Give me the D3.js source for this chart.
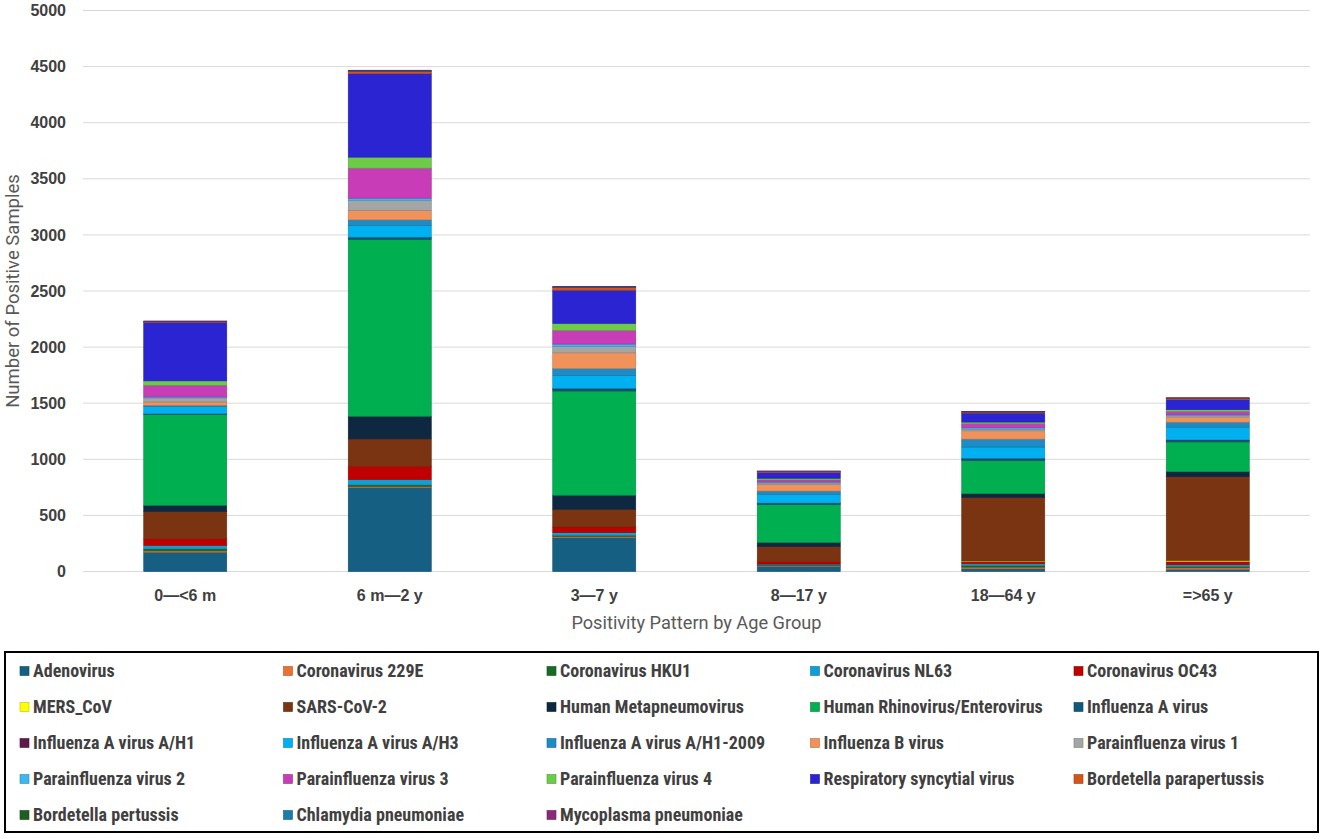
<!DOCTYPE html>
<html>
<head>
<meta charset="utf-8">
<script src="https://cdn.jsdelivr.net/npm/d3@7"></script>
<style>
  body { margin: 0; background: #fff; }
  svg { display: block; }
</style>
</head>
<body>
<div id="chart"></div>
<script>
// categories on the x axis
const ageGroups = ["0\u2014<6 m", "6 m\u20142 y", "3\u20147 y", "8\u201417 y", "18\u201464 y", "=>65 y"]

// pathogens, bottom of the stack first (same order as the legend)
const pathogens = [
  "Adenovirus", "Coronavirus 229E", "Coronavirus HKU1", "Coronavirus NL63", "Coronavirus OC43",
  "MERS_CoV", "SARS-CoV-2", "Human Metapneumovirus", "Human Rhinovirus/Enterovirus", "Influenza A virus",
  "Influenza A virus A/H1", "Influenza A virus A/H3", "Influenza A virus A/H1-2009", "Influenza B virus", "Parainfluenza virus 1",
  "Parainfluenza virus 2", "Parainfluenza virus 3", "Parainfluenza virus 4", "Respiratory syncytial virus", "Bordetella parapertussis",
  "Bordetella pertussis", "Chlamydia pneumoniae", "Mycoplasma pneumoniae"
]

const colors = [
  "#156082", "#E97132", "#196B24", "#0F9ED5", "#C00000",
  "#FFFF00", "#7B3411", "#0E2841", "#00B050", "#10597A",
  "#5E1A4A", "#00B0F0", "#1F8BC4", "#F1925A", "#A5A5A5",
  "#3CB8EE", "#C83CB8", "#6CCC48", "#2A24D2", "#D4541A",
  "#1F5E22", "#1A7DA8", "#8B2A7A"
]

// number of positive samples per age group
const adenovirus      = [172, 747, 301, 45, 24, 18]
const cov229E         = [12, 12, 12, 6, 15, 15]
const covHKU1         = [18, 12, 9, 6, 15, 12]
const covNL63         = [30, 48, 24, 9, 15, 15]
const covOC43         = [60, 119, 51, 24, 18, 30]
const mersCov         = [0, 0, 0, 0, 6, 8]
const sarsCov2        = [244, 244, 158, 134, 568, 747]
const metapneumo      = [54, 202, 125, 36, 33, 45]
const rhinoEntero     = [810, 1577, 929, 336, 295, 265]
const fluA            = [6, 15, 18, 12, 15, 15]
const fluAH1          = [0, 3, 3, 2, 4, 3]
const fluAH3          = [65, 104, 116, 77, 101, 113]
const fluAH1_2009     = [10, 51, 63, 30, 71, 45]
const fluB            = [30, 83, 140, 60, 74, 45]
const para1           = [36, 89, 57, 12, 15, 12]
const para2           = [9, 21, 21, 9, 12, 9]
const para3           = [104, 268, 122, 18, 36, 30]
const para4           = [39, 98, 63, 15, 15, 15]
const rsv             = [521, 744, 295, 51, 80, 89]
const bordParapert    = [6, 18, 24, 9, 9, 12]
const bordPertussis   = [2, 3, 2, 1, 1, 1]
const chlamydia       = [2, 4, 3, 2, 2, 2]
const mycoplasma      = [3, 6, 4, 2, 3, 3]

const counts = [adenovirus, cov229E, covHKU1, covNL63, covOC43, mersCov, sarsCov2, metapneumo,
  rhinoEntero, fluA, fluAH1, fluAH3, fluAH1_2009, fluB, para1, para2, para3, para4, rsv,
  bordParapert, bordPertussis, chlamydia, mycoplasma]

const yTicks = [0, 500, 1000, 1500, 2000, 2500, 3000, 3500, 4000, 4500, 5000]

// dimensions
const width = 1325
const height = 839
const plot = {left: 83, right: 1310, top: 10.5, bottom: 571.5}

const svg = d3.select("#chart")
  .append("svg")
    .attr("width", width)
    .attr("height", height)

// table for d3.stack : one row per age group
const rows = ageGroups.map((g, i) => {
  const r = {group: g}
  pathogens.forEach((p, j) => r[p] = counts[j][i])
  return r
})
const stacked = d3.stack().keys(pathogens)(rows)

const x = d3.scaleBand()
  .domain(ageGroups)
  .range([plot.left, plot.right])
  .paddingInner(0.594)
  .paddingOuter(0.297)

const y = d3.scaleLinear()
  .domain([0, 5000])
  .range([plot.bottom, plot.top])

// grid lines
svg.append("g")
  .selectAll("line")
  .data(yTicks)
  .join("line")
    .attr("x1", plot.left)
    .attr("x2", plot.right)
    .attr("y1", d => y(d))
    .attr("y2", d => y(d))
    .attr("stroke", "#d9d9d9")
    .attr("stroke-width", 1)

// y axis labels
const yAxis = svg.append("g")
  .attr("transform", `translate(66,0)`)
  .call(d3.axisLeft(y).tickValues(yTicks).tickFormat(d3.format("d")).tickSize(0).tickPadding(0))
yAxis.select(".domain").remove()
yAxis.selectAll("text")
  .attr("font-family", "'Liberation Sans', Arial, sans-serif")
  .attr("font-weight", "bold")
  .attr("font-size", 16)
  .attr("fill", "#404040")

// x axis labels
const xAxis = svg.append("g")
  .attr("transform", `translate(0,589.5)`)
  .call(d3.axisBottom(x).tickSize(0).tickPadding(0))
xAxis.select(".domain").remove()
xAxis.selectAll("text")
  .attr("font-family", "'Liberation Sans', Arial, sans-serif")
  .attr("font-weight", "bold")
  .attr("font-size", 16)
  .attr("fill", "#404040")

// stacked bars
svg.append("g")
  .selectAll("g")
  .data(stacked)
  .join("g")
    .attr("fill", (d, i) => colors[i])
    .attr("stroke", (d, i) => d3.color(colors[i]).darker(0.6))
    .attr("stroke-width", 0.6)
  .selectAll("rect")
  .data(d => d.filter(s => s[1] - s[0] > 0))
  .join("rect")
    .attr("x", d => x(d.data.group))
    .attr("y", d => y(d[1]))
    .attr("width", x.bandwidth())
    .attr("height", d => y(d[0]) - y(d[1]))

// axis titles
svg.append("text")
  .attr("transform", `translate(19,${(plot.top + plot.bottom) / 2}) rotate(-90)`)
  .attr("text-anchor", "middle")
  .attr("font-family", "Roboto, 'Liberation Sans', sans-serif")
  .attr("font-size", 18.5)
  .attr("fill", "#595959")
  .text("Number of Positive Samples")

svg.append("text")
  .attr("x", (plot.left + plot.right) / 2)
  .attr("y", 629)
  .attr("text-anchor", "middle")
  .attr("font-family", "Roboto, 'Liberation Sans', sans-serif")
  .attr("font-size", 18.2)
  .attr("fill", "#595959")
  .text("Positivity Pattern by Age Group")

// legend
svg.append("rect")
  .attr("x", 5)
  .attr("y", 652)
  .attr("width", 1313)
  .attr("height", 180)
  .attr("fill", "none")
  .attr("stroke", "#000")
  .attr("stroke-width", 2)

const legend = svg.append("g")
  .selectAll("g")
  .data(pathogens)
  .join("g")
    .attr("transform", (d, i) => `translate(${20 + (i % 5) * 263.5},${671 + Math.floor(i / 5) * 36})`)

legend.append("rect")
  .attr("x", 0)
  .attr("y", -4.5)
  .attr("width", 9)
  .attr("height", 9)
  .attr("fill", (d, i) => colors[i])
  .attr("stroke", (d, i) => d3.color(colors[i]).darker(0.8))
  .attr("stroke-width", 0.6)

legend.append("text")
  .attr("x", 13)
  .attr("dy", "0.35em")
  .attr("font-family", "'Liberation Sans Narrow', 'Roboto Condensed', Roboto, sans-serif")
  .attr("font-weight", "bold")
  .attr("font-size", 18)
  .attr("fill", "#404040")
  .text(d => d)
</script>
</body>
</html>
